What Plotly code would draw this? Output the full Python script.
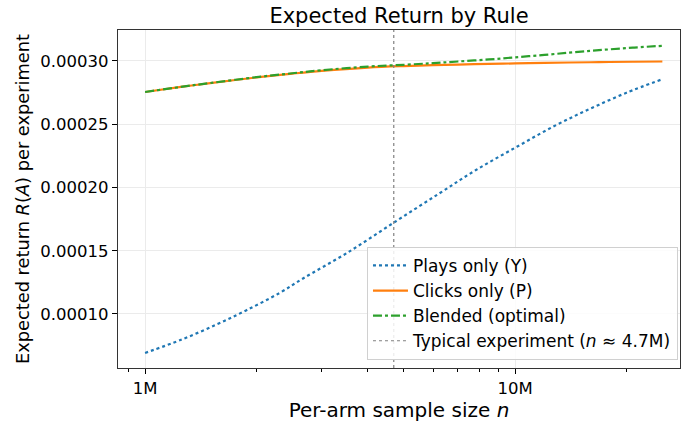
import plotly.graph_objects as go
import numpy as np

# ---- data ----
plays_n = [1.0e6, 1.256e6, 1.566e6, 1.88e6, 2.322e6, 2.672e6, 3.497e6, 4.74e6,
           6.24e6, 7.837e6, 10.11e6, 12.92e6, 16.06e6, 20.0e6, 24.95e6]
plays_only = [0.0000692, 0.0000798, 0.0000919, 0.0001030, 0.0001170, 0.0001281,
              0.0001479, 0.0001729, 0.0001953, 0.0002138, 0.0002322, 0.0002494,
              0.0002626, 0.0002749, 0.0002855]

n_values = [1.0e6, 1.25e6, 1.5e6, 2.0e6, 2.5e6, 3.0e6, 4.0e6, 5.0e6, 6.0e6, 7.0e6,
            8.5e6, 10e6, 12e6, 14e6, 16e6, 18e6, 21e6, 25e6]
clicks_only = [0.0002755, 0.0002795, 0.0002825, 0.0002870, 0.0002900, 0.0002922,
               0.0002948, 0.0002960, 0.0002967, 0.0002972, 0.0002977, 0.0002981,
               0.0002985, 0.0002988, 0.0002990, 0.0002992, 0.0002994, 0.0002996]
blended = [0.0002755, 0.0002795, 0.0002826, 0.0002872, 0.0002903, 0.0002927,
           0.0002956, 0.0002970, 0.0002983, 0.0002996, 0.0003012, 0.0003029,
           0.0003048, 0.0003066, 0.0003080, 0.0003092, 0.0003106, 0.0003120]
typical_n = 4.7e6
x_ticks = [1e6, 1e7]
x_tick_labels = ["1M", "10M"]
y_ticks = [0.00010, 0.00015, 0.00020, 0.00025, 0.00030]

x_range = [np.log10(0.845e6), np.log10(27.9e6)]
y_range = [0.0000573, 0.0003245]

fig = go.Figure()
fig.add_trace(go.Scatter(x=plays_n, y=plays_only, mode="lines", name="Plays only (Y)",
                         line=dict(color="#1f77b4", width=2.2, dash="dot", shape="spline")))
fig.add_trace(go.Scatter(x=n_values, y=clicks_only, mode="lines", name="Clicks only (P)",
                         line=dict(color="#ff7f0e", width=2.2, shape="spline")))
fig.add_trace(go.Scatter(x=n_values, y=blended, mode="lines", name="Blended (optimal)",
                         line=dict(color="#2ca02c", width=2.2, dash="dashdot", shape="spline")))
fig.add_trace(go.Scatter(x=[typical_n, typical_n], y=y_range, mode="lines",
                         name="Typical experiment (<i>n</i> ≈ 4.7M)",
                         line=dict(color="#808080", width=1.2, dash="dot")))

minor_vals = [v * m for v in [1e5, 1e6, 1e7] for m in range(2, 10)]

fig.update_layout(
    width=681, height=423,
    margin=dict(l=118, r=1, t=30, b=55),
    paper_bgcolor="white", plot_bgcolor="white",
    font=dict(family="DejaVu Sans", size=16.5, color="black"),
    title=dict(text="Expected Return by Rule", x=(118 + 680) / 2 / 681, xanchor="center",
               y=1 - 16 / 423, yanchor="middle", font=dict(size=21)),
    showlegend=True,
    legend=dict(x=0.9964, xanchor="right", y=0.024, yanchor="bottom",
                bgcolor="rgba(255,255,255,0.85)", bordercolor="#d0d0d0", borderwidth=1,
                font=dict(size=17), itemwidth=35, tracegroupgap=0),
    xaxis=dict(type="log", range=x_range, tickvals=x_ticks, ticktext=x_tick_labels,
               ticks="outside", ticklen=5, tickcolor="black",
               showgrid=True, gridcolor="#ebebeb", gridwidth=1,
               showline=True, linecolor="#333333", linewidth=1.2, mirror=True,
               zeroline=False,
               minor=dict(tickvals=minor_vals, ticks="outside", ticklen=3,
                          tickcolor="black", showgrid=False),
               title=dict(text="Per-arm sample size <i>n</i>", font=dict(size=20), standoff=6)),
    yaxis=dict(range=y_range, tickvals=y_ticks, tickformat=".5f",
               ticks="outside", ticklen=5, tickcolor="black",
               showgrid=True, gridcolor="#ebebeb", gridwidth=1,
               showline=True, linecolor="#333333", linewidth=1.2, mirror=True,
               zeroline=False,
               title=dict(text="Expected return <i>R</i>(<i>A</i>) per experiment",
                          font=dict(size=17.8), standoff=6)),
)

fig.write_html("out.html")
